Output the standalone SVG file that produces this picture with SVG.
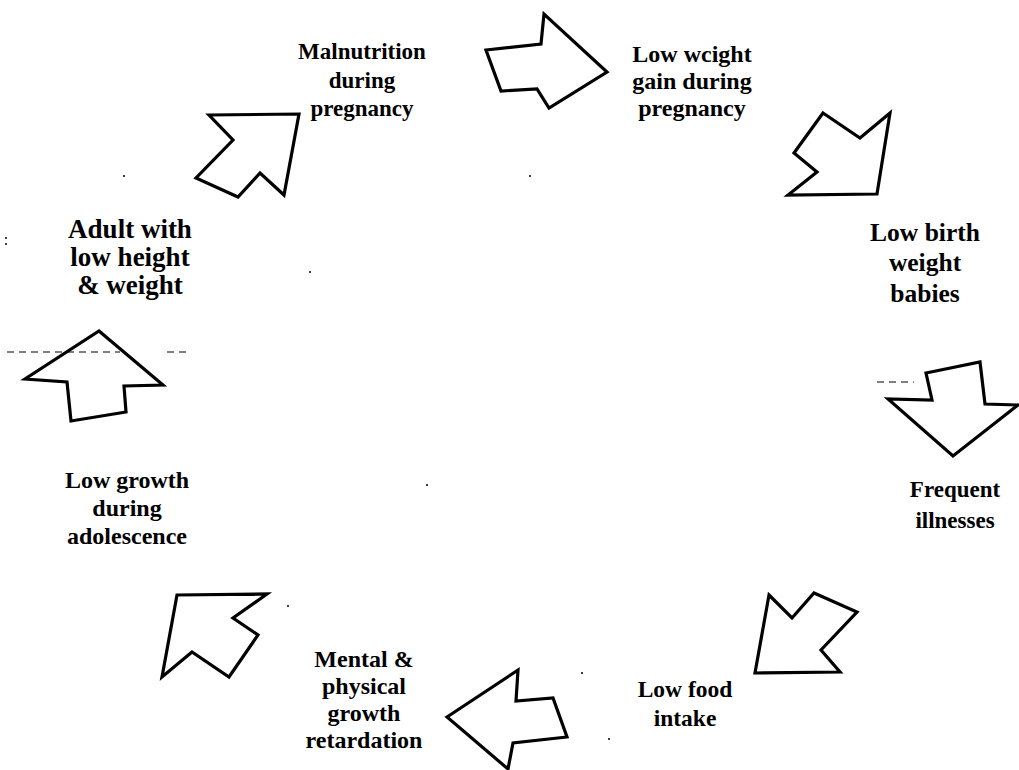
<svg xmlns="http://www.w3.org/2000/svg" width="1019" height="770" viewBox="0 0 1019 770">
<style>
.arrow{fill:#fff;stroke:#000;stroke-width:3.2;stroke-linejoin:miter}
.lbl{font-family:"Liberation Serif","Times New Roman",serif;font-weight:bold;fill:#000;text-anchor:middle}
.dash{stroke:#000;stroke-width:1.2;stroke-dasharray:7 5;fill:none}
.dot{fill:#000}
</style>
<rect width="1019" height="770" fill="#fff"/>
<g id="connectors">
<polygon id="arrow1" class="arrow" points="209,115 299,114 284,195 260,173 238,197 196,178 233,140"/>
<polygon id="arrow2" class="arrow" points="486,50 541,44 544,14 607,72 549,108 537,89 501,91"/>
<polygon id="arrow3" class="arrow" points="823,113 860,138 890,113 877,194 788,195 817,172 794,153"/>
<polygon id="arrow4" class="arrow" points="926,373 980,362 985,404 1018,405 953,456 888,399 932,400"/>
<polygon id="arrow5" class="arrow" points="769,595 792,618 814,593 857,612 821,650 840,672 755,673"/>
<polygon id="arrow6" class="arrow" points="447,717 518,670 516,701 553,698 567,737 513,743 508,769"/>
<polygon id="arrow7" class="arrow" points="177,595 267,594 233,618 258,635 229,677 192,652 162,677"/>
<polygon id="arrow8" class="arrow" points="99,331 163,385 124,386 126,412 71,421 67,382 25,379"/>
</g>
<g id="marks">
<path class="dash" d="M7,352 H120 M167,352 H190 M877,382 H914"/>
<circle class="dot" cx="124" cy="176" r="1"/>
<circle class="dot" cx="310" cy="272" r="1"/>
<circle class="dot" cx="530" cy="176" r="1"/>
<circle class="dot" cx="427" cy="485" r="1"/>
<circle class="dot" cx="288" cy="606" r="1"/>
<circle class="dot" cx="582" cy="673" r="1"/>
<circle class="dot" cx="609" cy="739" r="1"/>
<circle class="dot" cx="6" cy="238" r="1"/>
<circle class="dot" cx="6" cy="244" r="1"/>
</g>
<g id="node-malnutrition"><text class="lbl" font-size="23" x="362"><tspan x="362" y="59">Malnutrition</tspan><tspan x="362" y="88">during</tspan><tspan x="362" y="116">pregnancy</tspan></text></g>
<g id="node-lowweightgain"><text class="lbl" font-size="24" x="692"><tspan x="692" y="62">Low wcight</tspan><tspan x="692" y="89">gain during</tspan><tspan x="692" y="116">pregnancy</tspan></text></g>
<g id="node-lowbirthweight"><text class="lbl" font-size="25.5" x="925"><tspan x="925" y="241">Low birth</tspan><tspan x="925" y="271">weight</tspan><tspan x="925" y="302">babies</tspan></text></g>
<g id="node-frequentillnesses"><text class="lbl" font-size="23" x="955"><tspan x="955" y="497">Frequent</tspan><tspan x="955" y="528">illnesses</tspan></text></g>
<g id="node-lowfoodintake"><text class="lbl" font-size="23.5" x="685"><tspan x="685" y="697">Low food</tspan><tspan x="685" y="726">intake</tspan></text></g>
<g id="node-mental"><text class="lbl" font-size="24" x="364"><tspan x="364" y="667">Mental &amp;</tspan><tspan x="364" y="694">physical</tspan><tspan x="364" y="721">growth</tspan><tspan x="364" y="748">retardation</tspan></text></g>
<g id="node-lowgrowth"><text class="lbl" font-size="24" x="127"><tspan x="127" y="488">Low growth</tspan><tspan x="127" y="516">during</tspan><tspan x="127" y="544">adolescence</tspan></text></g>
<g id="node-adult"><text class="lbl" font-size="27" x="130"><tspan x="130" y="238">Adult with</tspan><tspan x="130" y="266">low height</tspan><tspan x="130" y="294">&amp; weight</tspan></text></g>
</svg>
